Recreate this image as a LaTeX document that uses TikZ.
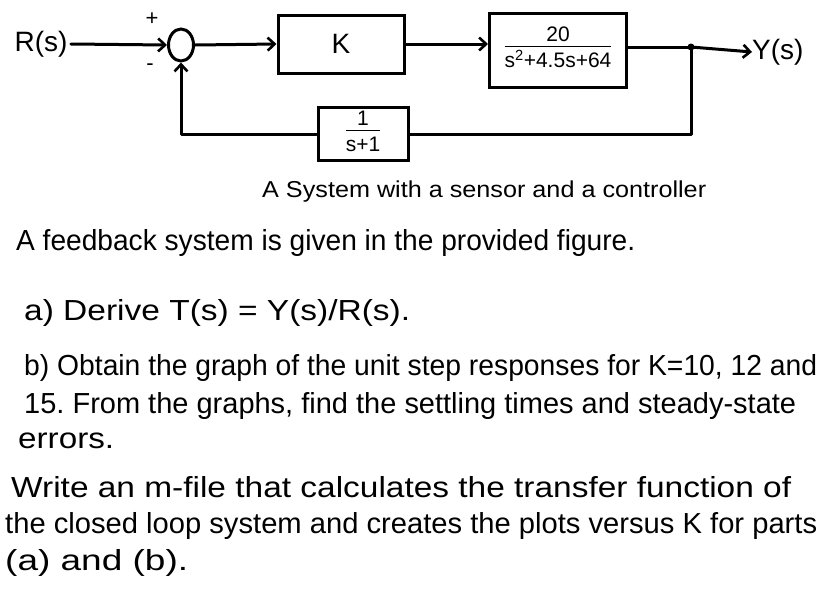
\documentclass[tikz,border=0pt]{standalone}
\usepackage{fontspec}
\usepackage{graphicx}
\setmainfont{Liberation Sans}
\frenchspacing
\usetikzlibrary{arrows.meta,positioning,calc,shapes.geometric}
\newcommand{\fitline}[2]{\resizebox{#1}{\height}{#2}}
\begin{document}
\begin{tikzpicture}[x=1pt,y=-1pt,
  wire/.style={line width=3pt,line cap=round,line join=round},
  arr/.style={wire,-{Straight Barb[length=7pt,width=13pt,line width=2.6pt]}},
  blk/.style={draw,line width=3pt,rectangle,inner sep=0pt},
  lbl/.style={font=\fontsize{28}{30}\selectfont},
  body/.style={anchor=base west,inner sep=0pt,font=\fontsize{29}{32}\selectfont},
  frac/.style={font=\fontsize{21}{23}\selectfont}]
\useasboundingbox (0,0) rectangle (829,590);
\fill[white] (0,0) rectangle (829,590);
% diagram
\node[lbl] (R) at (41,44) {R(s)};
\node[draw,line width=3pt,ellipse,minimum width=25pt,minimum height=32pt,inner sep=0pt] (sum) at (181,45) {};
\node[font=\fontsize{22}{24}\selectfont] (plus) at (152,19) {+};
\node[font=\fontsize{22}{24}\selectfont] (minus) at (150,67) {-};
\node[blk,minimum width=126pt,minimum height=58pt,lbl] (K) at (341,44) {K};
\node[blk,minimum width=137pt,minimum height=74pt,frac] (G) at (558,50)
  {\begin{tabular}{@{}c@{}}20\\[-2pt]\hline\rule{0pt}{21pt}s\textsuperscript{2}+4.5s+64\end{tabular}};
\node[blk,minimum width=90pt,minimum height=53pt,frac] (H) at (363,134)
  {\begin{tabular}{@{}c@{}}1\\[-2pt]\hline\rule{0pt}{21pt}s+1\end{tabular}};
\coordinate (J) at (691,47);
\node[lbl,anchor=west,inner sep=0pt] (Y) at (752,52) {Y(s)};
\draw[arr] (R.east) -- (sum.west);
\draw[arr] (sum.east) -- (K.west);
\draw[arr] (K.east) -- (K.east -| G.west);
\draw[wire] (G.east |- J) -- (J);
\draw[arr] (J) -- (Y.west);
\fill (J) circle (3.5pt);
\draw[wire] (J) |- (H.east);
\draw[arr] (H.west) -| (sum.south);
% caption
\node[anchor=base west,inner sep=0pt,font=\fontsize{23}{26}\selectfont] (cap) at (262,197)
  {\fitline{444pt}{A System with a sensor and a controller}};
% body text
\node[body] (l1) at (16,250) {\fitline{619pt}{A feedback system is given in the provided figure.}};
\node[body] (l2) at (24,320) {\fitline{386pt}{a) Derive T(s) = Y(s)/R(s).}};
\node[body] (l3) at (24,375) {\fitline{793pt}{b) Obtain the graph of the unit step responses for K=10, 12 and}};
\node[body] (l4) at (24,413) {\fitline{772pt}{15. From the graphs, find the settling times and steady-state}};
\node[body] (l5) at (18,448) {\fitline{96pt}{errors.}};
\node[body] (l6) at (11,497) {\fitline{780pt}{Write an m-file that calculates the transfer function of}};
\node[body] (l7) at (5,533) {\fitline{812pt}{the closed loop system and creates the plots versus K for parts}};
\node[body] (l8) at (5,570) {\fitline{183pt}{(a) and (b).}};
\end{tikzpicture}
\end{document}
